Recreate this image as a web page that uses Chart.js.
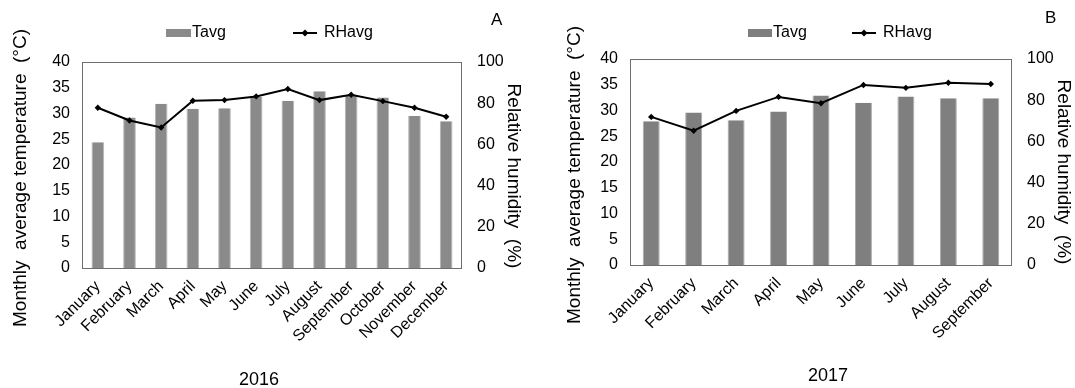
<!DOCTYPE html>
<html><head><meta charset="utf-8">
<script src="https://cdn.jsdelivr.net/npm/chart.js@4"></script>
<style>
html,body{margin:0;padding:0;background:#fff;}
#wrap{position:relative;width:1075px;height:388px;overflow:hidden;background:#fff;}
.panel{position:absolute;top:0;height:388px;}
</style></head><body>
<div id="wrap">
<div class="panel" style="left:0;width:540px;"><canvas id="cA" width="540" height="388"></canvas></div>
<div class="panel" style="left:540px;width:535px;"><canvas id="cB" width="535" height="388"></canvas></div>
</div>
<script>
// ---- data ----
const months2016 = ['January','February','March','April','May','June','July','August','September','October','November','December'];
const tavg2016 = [24.4,29.2,31.9,30.9,31.0,33.2,32.5,34.3,33.6,33.1,29.5,28.5];
const rh2016   = [77.8,71.6,68.2,81.2,81.5,83.3,86.9,81.5,84.1,81.0,77.8,73.4];
const months2017 = ['January','February','March','April','May','June','July','August','September'];
const tavg2017 = [27.9,29.6,28.1,29.8,32.9,31.5,32.7,32.4,32.4];
const rh2017   = [71.9,65.2,74.8,81.6,78.5,87.4,86.0,88.5,87.9];
const tempTickValues = [0,5,10,15,20,25,30,35,40];
const rhTickValues = [0,20,40,60,80,100];
const seriesNames = ['Tavg','RHavg'];
const yTitle = 'Monthly  average temperature  (°C)';
const y2Title = 'Relative humidity  (%)';

const FONT = "'Liberation Sans', Arial, sans-serif";

function makeChart(id, labels, tavg, rh, g) {
  const W = g.width, H = 388;
  const decor = {
    id: 'decor',
    afterDraw(chart) {
      const ctx = chart.ctx, a = chart.chartArea;
      ctx.save();
      // plot box
      ctx.strokeStyle = '#6e6e6e';
      ctx.lineWidth = 1;
      ctx.strokeRect(Math.round(a.left) + 0.5, Math.round(a.top) + 0.5, Math.round(a.right - a.left) - 1, Math.round(a.bottom - a.top));
      ctx.fillStyle = '#000';
      // axis titles
      ctx.font = '19px ' + FONT;
      ctx.textAlign = 'center'; ctx.textBaseline = 'middle';
      ctx.save(); ctx.translate(g.ytX, g.ytY); ctx.rotate(-Math.PI/2); ctx.fillText(yTitle, 0, 0); ctx.restore();
      ctx.save(); ctx.translate(g.y2tX, g.y2tY); ctx.rotate(Math.PI/2); ctx.fillText(y2Title, 0, 0); ctx.restore();
      // year
      ctx.font = '18px ' + FONT;
      ctx.fillText(g.year, g.yearX, g.yearY);
      // panel letter
      ctx.font = '17px ' + FONT;
      ctx.textAlign = 'left';
      ctx.fillText(g.letter, g.letterX, g.letterY);
      // legend
      ctx.font = '16px ' + FONT;
      ctx.fillStyle = g.barColor;
      ctx.fillRect(g.legBoxX, g.legY - 4, g.legBoxW, 8);
      ctx.fillStyle = '#000';
      ctx.fillText(seriesNames[0], g.legBoxX + g.legBoxW + 1, g.legY);
      ctx.strokeStyle = '#000'; ctx.lineWidth = 2;
      ctx.beginPath(); ctx.moveTo(g.legLineX, g.legY); ctx.lineTo(g.legLineX + 24, g.legY); ctx.stroke();
      const cx = g.legLineX + 12, cy = g.legY;
      ctx.beginPath(); ctx.moveTo(cx, cy - 3.5); ctx.lineTo(cx + 3.5, cy); ctx.lineTo(cx, cy + 3.5); ctx.lineTo(cx - 3.5, cy); ctx.closePath(); ctx.fill();
      ctx.fillText(seriesNames[1], g.legLineX + 31, g.legY);
      ctx.restore();
    }
  };
  return new Chart(document.getElementById(id), {
    type: 'bar',
    data: {
      labels: labels,
      datasets: [
        { type: 'line', label: seriesNames[1], data: rh, yAxisID: 'y1', order: 0,
          borderColor: '#000', borderWidth: 2, tension: 0,
          pointStyle: 'rectRot', pointRadius: 3.2, pointBackgroundColor: '#000', pointBorderColor: '#000', pointBorderWidth: 0 },
        { type: 'bar', label: seriesNames[0], data: tavg, yAxisID: 'y', order: 1,
          backgroundColor: g.barColor, borderColor: g.barEdge, borderWidth: {left:1,right:1,top:0,bottom:0},
          barPercentage: 0.8, categoryPercentage: 0.5 }
      ]
    },
    options: {
      responsive: false, animation: false, devicePixelRatio: 1,
      layout: { padding: { top: g.top, left: 0, right: 0, bottom: 0 } },
      plugins: { legend: { display: false }, tooltip: { enabled: false }, title: { display: false } },
      scales: {
        x: {
          offset: true,
          grid: { display: false, drawTicks: false }, border: { display: false },
          ticks: { autoSkip: false, maxRotation: 45, minRotation: 45, color: '#000', padding: g.xPad,
                   font: { family: FONT, size: g.xFont } },
          afterFit(s) { s.height = H - g.bottom; }
        },
        y: {
          position: 'left', min: 0, max: 40,
          afterBuildTicks(s) { s.ticks = tempTickValues.map(v => ({ value: v })); },
          grid: { display: false, drawTicks: false }, border: { display: false },
          ticks: { color: '#000', padding: 12, font: { family: FONT, size: 16 } },
          afterFit(s) { s.width = g.left; }
        },
        y1: {
          position: 'right', min: 0, max: 100,
          afterBuildTicks(s) { s.ticks = rhTickValues.map(v => ({ value: v })); },
          grid: { display: false, drawTicks: false }, border: { display: false },
          ticks: { color: '#000', padding: 15, font: { family: FONT, size: 16 } },
          afterFit(s) { s.width = W - g.right; }
        }
      }
    },
    plugins: [decor]
  });
}

makeChart('cA', months2016, tavg2016, rh2016, {
  width: 540, left: 82, right: 462, top: 62, bottom: 268,
  barColor: '#8a8a8a', barEdge: '#b4b4b4', xFont: 16, xPad: 9,
  ytX: 21, ytY: 178, y2tX: 513, y2tY: 176,
  year: '2016', yearX: 259, yearY: 380,
  letter: 'A', letterX: 491, letterY: 20,
  legY: 33, legBoxX: 166, legBoxW: 25, legLineX: 293
});
makeChart('cB', months2017, tavg2017, rh2017, {
  width: 535, left: 90, right: 472, top: 59, bottom: 265,
  barColor: '#7f7f7f', barEdge: '#ababab', xFont: 16, xPad: 9,
  ytX: 35, ytY: 175, y2tX: 523, y2tY: 172,
  year: '2017', yearX: 288, yearY: 376,
  letter: 'B', letterX: 505, letterY: 18,
  legY: 33, legBoxX: 208, legBoxW: 24, legLineX: 312
});
</script>
</body></html>
